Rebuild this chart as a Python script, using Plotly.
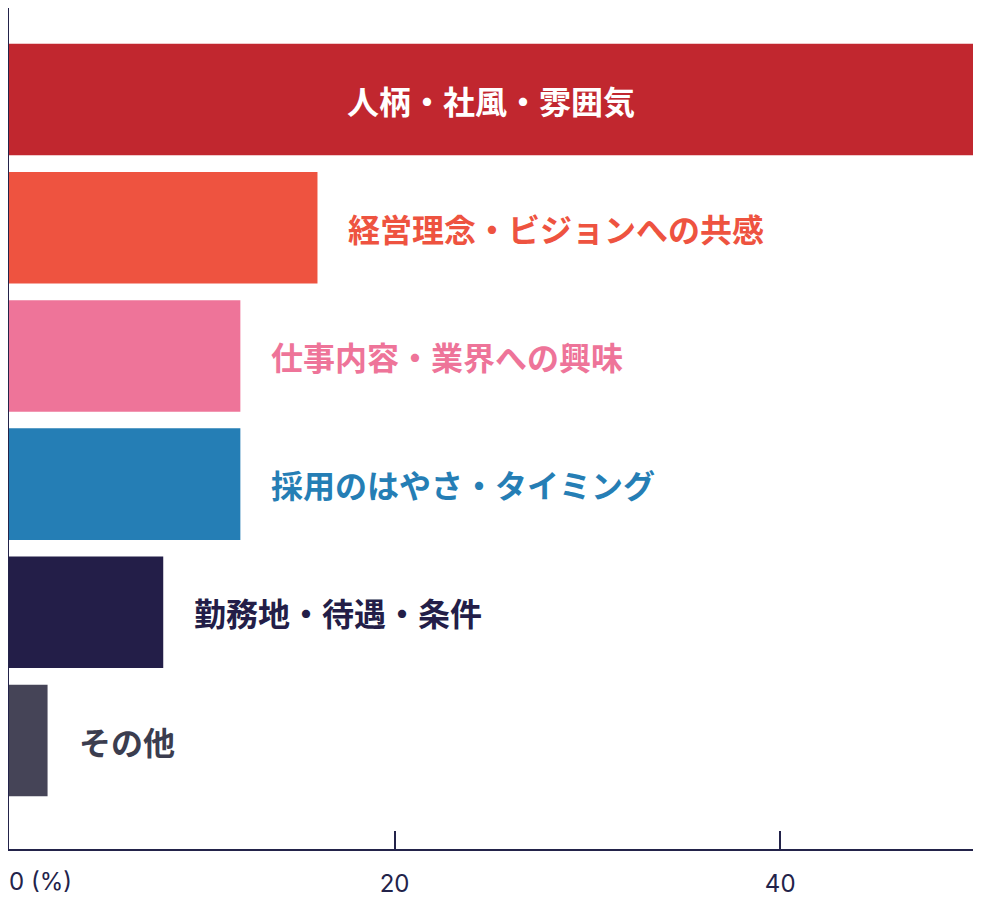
import plotly.graph_objects as go

# 入社の決め手 (%)
categories = [
    "人柄・社風・雰囲気",
    "経営理念・ビジョンへの共感",
    "仕事内容・業界への興味",
    "採用のはやさ・タイミング",
    "勤務地・待遇・条件",
    "その他",
]
values = [50, 16, 12, 12, 8, 2]
bar_colors = ["#C1272F", "#EE5340", "#EE7499", "#257EB5", "#231E48", "#454457"]
label_colors = ["#FFFFFF", "#EE5340", "#EE7499", "#257EB5", "#231E48", "#3B3D4F"]
tick_vals = [20, 40]
tick_text = ["20", "40"]

NAVY = "#23234A"
LABEL_FONT = "Noto Sans CJK JP"
TICK_FONT = dict(family="Inter", size=24, color=NAVY)

fig = go.Figure(
    go.Bar(
        x=values,
        y=categories,
        orientation="h",
        marker=dict(color=bar_colors, line=dict(width=0)),
        hoverinfo="skip",
    )
)
# empty trace so the second x axis (left aligned "0 (%)") is drawn
fig.add_trace(go.Scatter(x=[], y=[], xaxis="x2", showlegend=False))

for i, (cat, val) in enumerate(zip(categories, values)):
    if i == 0:
        # largest bar: label sits centred inside the bar
        fig.add_annotation(
            x=val / 2, y=cat, text=cat, showarrow=False,
            xanchor="center", yanchor="middle",
            font=dict(family=LABEL_FONT, size=32, color=label_colors[i], weight=700),
        )
    else:
        fig.add_annotation(
            x=val, y=cat, text=cat, showarrow=False,
            xanchor="left", yanchor="middle", xshift=29,
            font=dict(family=LABEL_FONT, size=32, color=label_colors[i], weight=700),
        )

# page body keeps its default 8px margin, so the figure is sized to fit inside it
fig.update_layout(
    width=965,
    height=891,
    margin=dict(l=1, r=0, t=0, b=50, autoexpand=False),
    paper_bgcolor="white",
    plot_bgcolor="white",
    showlegend=False,
    bargap=0.13,
    xaxis=dict(
        range=[0, 50],
        showgrid=False,
        zeroline=False,
        showline=True,
        linecolor=NAVY,
        linewidth=2,
        ticks="inside",
        ticklen=18,
        tickwidth=1.5,
        tickcolor=NAVY,
        tickvals=tick_vals,
        ticktext=tick_text,
        ticklabelstandoff=12,
        tickfont=TICK_FONT,
        automargin=False,
        fixedrange=True,
    ),
    xaxis2=dict(
        overlaying="x",
        anchor="y",
        side="bottom",
        range=[0, 50],
        showgrid=False,
        zeroline=False,
        showline=False,
        ticks="",
        tickvals=[0],
        ticktext=["0 (%)"],
        ticklabelposition="outside right",
        ticklabelstandoff=16,
        tickfont=TICK_FONT,
        automargin=False,
        fixedrange=True,
    ),
    yaxis=dict(
        categoryorder="array",
        categoryarray=categories,
        range=[5.846, -0.714],
        showgrid=False,
        zeroline=False,
        showline=True,
        linecolor=NAVY,
        linewidth=2,
        showticklabels=False,
        ticks="",
        fixedrange=True,
    ),
)

fig.write_html("out.html")
